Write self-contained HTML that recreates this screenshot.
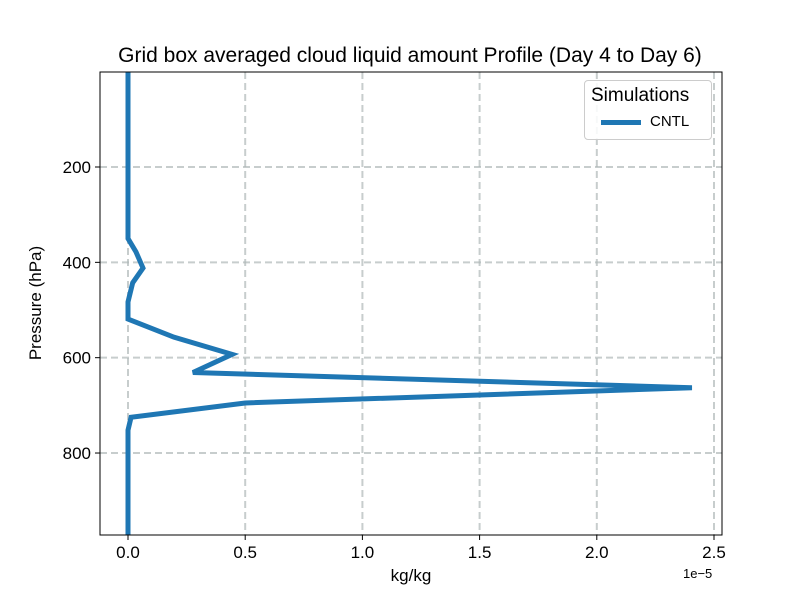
<!DOCTYPE html>
<html><head><meta charset="utf-8"><style>body{margin:0;background:#fff}svg{font-family:"Liberation Sans",sans-serif}</style></head>
<body>
<svg id="c" width="800" height="600"></svg>
<script>
const pressure=[1,100,200,300,350,378,412,443,483,519,557,593,631,663,695,725,752,850,972];
const values=[0,0,0,0,0,0.034,0.064,0.02,0,0,0.196,0.444,0.277,2.406,0.5,0.013,0,0,0];
const xTicks=[0,0.5,1.0,1.5,2.0,2.5];
const xTickLabels=["0.0","0.5","1.0","1.5","2.0","2.5"];
const yTicks=[200,400,600,800];
const L=100,R=722,T=72,B=535;
const X=v=>128+v*234.4;
const Y=p=>167+(p-200)*0.4767;
const s=document.getElementById('c');const ns="http://www.w3.org/2000/svg";
function add(tag,a,txt){const e=document.createElementNS(ns,tag);for(const k in a)e.setAttribute(k,a[k]);if(txt!==undefined)e.textContent=txt;s.appendChild(e);return e;}
xTicks.forEach((t,i)=>{
 const g=add('line',{x1:X(t),x2:X(t),y1:T,y2:B,stroke:'#b0b8b8','stroke-width':2,'stroke-dasharray':'7,4',opacity:.7});
 
 add('line',{x1:X(t),x2:X(t),y1:B,y2:B+5,stroke:'#000'});
 const l=add('text',{x:X(t),y:B+23,'text-anchor':'middle','font-size':17},xTickLabels[i]);
 
});
yTicks.forEach(t=>{
 const g=add('line',{x1:L,x2:R,y1:Y(t),y2:Y(t),stroke:'#b0b8b8','stroke-width':2,'stroke-dasharray':'7,4',opacity:.7});
 
 add('line',{x1:L-5,x2:L,y1:Y(t),y2:Y(t),stroke:'#000'});
 const l=add('text',{x:L-9,y:Y(t)+6,'text-anchor':'end','font-size':17},t);
 
});
const line=add('polyline',{points:pressure.map((p,i)=>X(values[i])+','+Y(p)).join(' '),fill:'none',stroke:'#1f77b4','stroke-width':5,'stroke-linejoin':'miter'});

const fr=add('rect',{x:L,y:T,width:R-L,height:B-T,fill:'none',stroke:'#000','stroke-width':1});

</script>
<div style="position:absolute;left:0;top:0;width:800px;height:600px;pointer-events:none;font-family:'Liberation Sans',sans-serif">
<div style="position:absolute;left:0;width:820px;top:44px;text-align:center;font-size:21px">Grid box averaged cloud liquid amount Profile (Day 4 to Day 6)</div>
<div style="position:absolute;left:311px;width:200px;top:566px;text-align:center;font-size:17px">kg/kg</div>
<div style="position:absolute;left:683px;top:566px;font-size:13px">1e−5</div>
<div style="position:absolute;left:-64px;top:293px;width:200px;text-align:center;font-size:17px;transform:rotate(-90deg)">Pressure (hPa)</div>
<div style="position:absolute;left:584px;top:80px;width:126px;height:58px;border:1px solid #ccc;border-radius:4px;background:rgba(255,255,255,.85)">
<div style="position:absolute;left:6px;top:4px;font-size:19px">Simulations</div>
<div style="position:absolute;left:16px;top:32px;font-size:15px"><span style="display:inline-block;width:40px;height:5px;background:#1f77b4;vertical-align:middle;margin-right:9px"></span>CNTL</div>
</div></div>
</body></html>
